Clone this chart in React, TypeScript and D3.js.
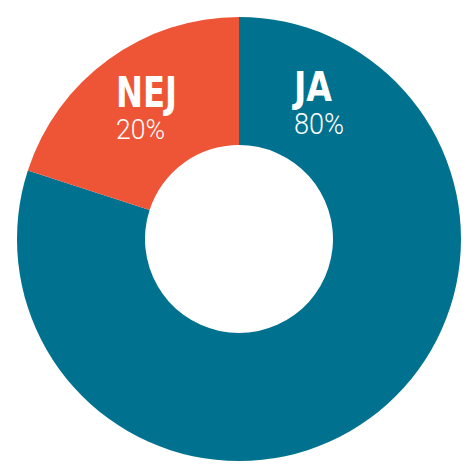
import React from "react";
import { arc, pie, PieArcDatum } from "d3";

// Datos del gráfico
const categories = ["JA", "NEJ"];
const values = [80, 20];
const valueLabels = ["80%", "20%"];
const colors = ["#00728F", "#EE5537"];

type Slice = { name: string; value: number; label: string; color: string };

const slices: Slice[] = categories.map((name, i) => ({
  name,
  value: values[i],
  label: valueLabels[i],
  color: colors[i],
}));

// Posición de las etiquetas respecto al centro
const labelLayout: Record<string, { dx: number; dy: number; nameW: number; pctW: number; nameSize: number; pctSize: number; gap: number }> = {
  JA: { dx: 55, dy: -138, nameW: 38, pctW: 50, nameSize: 40, pctSize: 29, gap: 33 },
  NEJ: { dx: -123, dy: -132, nameW: 61, pctW: 49, nameSize: 42, pctSize: 27, gap: 32 },
};

export default function App() {
  const width = 476;
  const height = 476;
  const cx = 239;
  const cy = 239;
  const outer = 222;
  const inner = 94;

  const pieGen = pie<Slice>()
    .sort(null)
    .value((d) => d.value);
  const arcs = pieGen(slices);

  const arcGen = arc<PieArcDatum<Slice>>()
    .innerRadius(inner)
    .outerRadius(outer);

  return (
    <div style={{ position: "fixed", left: 0, top: 0, width, height, background: "#fff" }}>
      <svg width={width} height={height} viewBox={`0 0 ${width} ${height}`}>
        <g transform={`translate(${cx}, ${cy})`}>
          {arcs.map((a, i) => (
            <path key={i} d={arcGen(a) ?? ""} fill={a.data.color} />
          ))}
          {arcs.map((a, i) => {
            const l = labelLayout[a.data.name];
            return (
              <g key={`l-${i}`} transform={`translate(${l.dx}, ${l.dy})`} fill="#fff">
                <text
                  x={0}
                  y={0}
                  fontFamily="'Liberation Sans Narrow', 'DejaVu Sans Condensed', Roboto, sans-serif"
                  fontWeight={700}
                  fontSize={l.nameSize}
                  textLength={l.nameW}
                  lengthAdjust="spacingAndGlyphs"
                >
                  {a.data.name}
                </text>
                <text
                  x={0}
                  y={l.gap}
                  fontFamily="Roboto, 'Noto Sans', sans-serif"
                  fontWeight={300}
                  fontSize={l.pctSize}
                  textLength={l.pctW}
                  lengthAdjust="spacingAndGlyphs"
                >
                  {a.data.label}
                </text>
              </g>
            );
          })}
        </g>
      </svg>
    </div>
  );
}
